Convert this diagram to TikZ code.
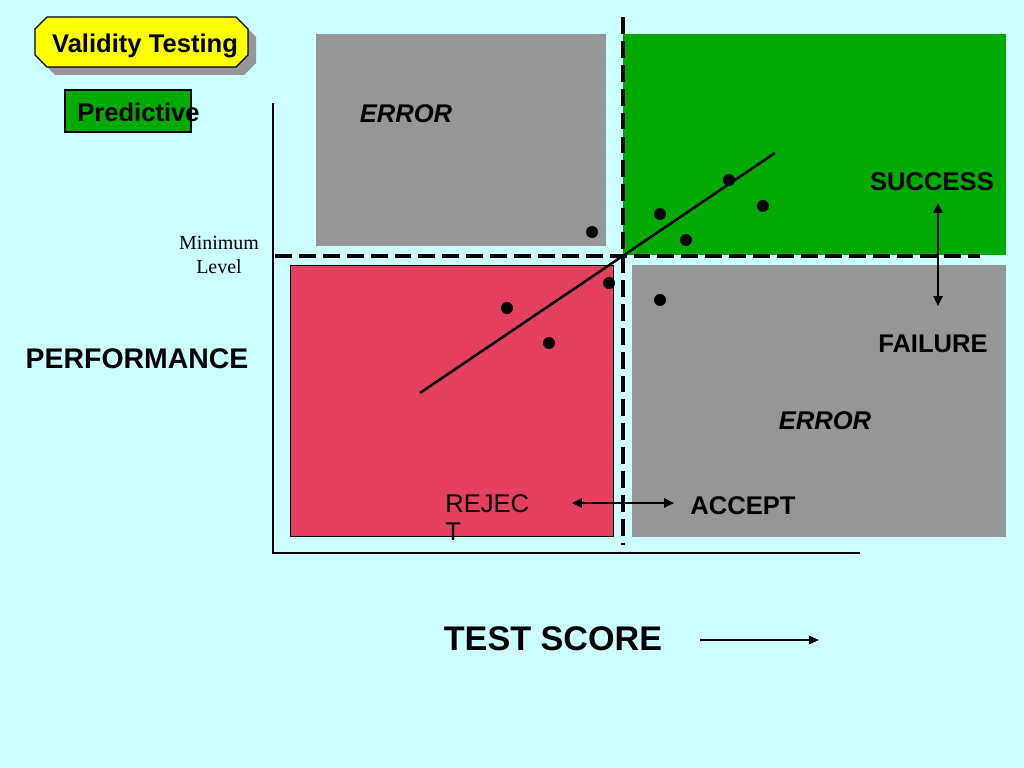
\documentclass[tikz,border=0pt]{standalone}
\usepackage{fontspec}
\setmainfont{Liberation Sans}
\newfontfamily\timesfont{Liberation Serif}
\usetikzlibrary{arrows.meta}
\definecolor{bgcyan}{RGB}{204,255,255}
\definecolor{boxgray}{RGB}{150,150,150}
\definecolor{boxgreen}{RGB}{0,170,0}
\definecolor{boxred}{RGB}{228,64,96}
\definecolor{tagyellow}{RGB}{255,255,0}
\tikzset{
  lbl/.style={font=\fontsize{18.2}{21}\selectfont\bfseries, inner sep=0pt},
  cutline/.style={line width=2.2pt, dash pattern=on 12pt off 5pt},
  dbl/.style={line width=1.4pt, {Triangle[length=7pt,width=6.5pt]}-{Triangle[length=7pt,width=6.5pt]}}
}
\begin{document}
\begin{tikzpicture}[x=0.025cm, y=-0.025cm]
\useasboundingbox[fill=bgcyan] (0, 0) rectangle (1024, 768);

% title tag
\fill[boxgray] (55, 25) -- (244, 25) -- (256, 37) -- (256, 63) -- (244, 75) -- (55, 75) -- (43, 63) -- (43, 37) -- cycle;
\draw[fill=tagyellow, line width=0.8pt] (47, 17) -- (236, 17) -- (248, 29) -- (248, 55) -- (236, 67) -- (47, 67) -- (35, 55) -- (35, 29) -- cycle;
\node[lbl] (title) at (145, 46){Validity Testing};

\draw[fill=boxgreen, line width=0.8pt] (65, 90) rectangle (191, 132);
\node[lbl, anchor=west] (pred) at (77, 112){Predictive};

% quadrants
\fill[boxgray] (316, 34) rectangle (606, 246);
\fill[boxgreen] (623, 34) rectangle (1006, 255);
\draw[fill=boxred, line width=0.6pt] (290, 265) rectangle (613, 536);
\fill[boxgray] (632, 265) rectangle (1006, 537);

% axes
\draw[line width=0.9pt] (273, 103) -- (273, 553) -- (860, 553);

\draw[cutline] (623, 17) -- (623, 545);
\draw[cutline] (275, 256) -- (980, 256);

\draw[line width=1.8pt] (420, 393) -- (775, 153);

\fill (592, 232) circle(6);
\fill (660, 214) circle(6);
\fill (686, 240) circle(6);
\fill (729, 180) circle(6);
\fill (763, 206) circle(6);
\fill (609, 283) circle(6);
\fill (507, 308) circle(6);
\fill (549, 343) circle(6);
\fill (660, 300) circle(6);

\node[lbl, font=\fontsize{18.2}{21}\selectfont\bfseries\itshape] (err1) at (406, 114){ERROR};
\node[lbl, font=\fontsize{18.2}{21}\selectfont\bfseries\itshape] (err2) at (825, 421){ERROR};
\node[lbl] (succ) at (932, 182){SUCCESS};
\node[lbl] (fail) at (933, 344){FAILURE};
\node[lbl] (acc) at (743, 506){ACCEPT};
\node[lbl, font=\fontsize{18.2}{21}\selectfont, anchor=north west, align=left] (rej) at (445, 494){REJEC\\[-1pt]T};
\node[lbl, font=\fontsize{14.2}{16.4}\selectfont\timesfont, align=center] (minlev) at (219, 255){Minimum\\Level};
\node[lbl, font=\fontsize{20.2}{24}\selectfont\bfseries] (perf) at (137, 359){PERFORMANCE};
\node[lbl, font=\fontsize{24.3}{28}\selectfont\bfseries] (score) at (553, 639){TEST SCORE};

\coordinate (sf1) at (938, 203);
\coordinate (sf2) at (938, 306);
\coordinate (ra1) at (572, 503);
\coordinate (ra2) at (674, 503);
\coordinate (ts1) at (700, 640);
\coordinate (ts2) at (819, 640);
\draw[dbl] (sf1) -- (sf2);
\draw[dbl] (ra1) -- (ra2);
\draw[line width=1pt, -{Triangle[length=7pt,width=6pt]}] (ts1) -- (ts2);
\end{tikzpicture}
\end{document}
